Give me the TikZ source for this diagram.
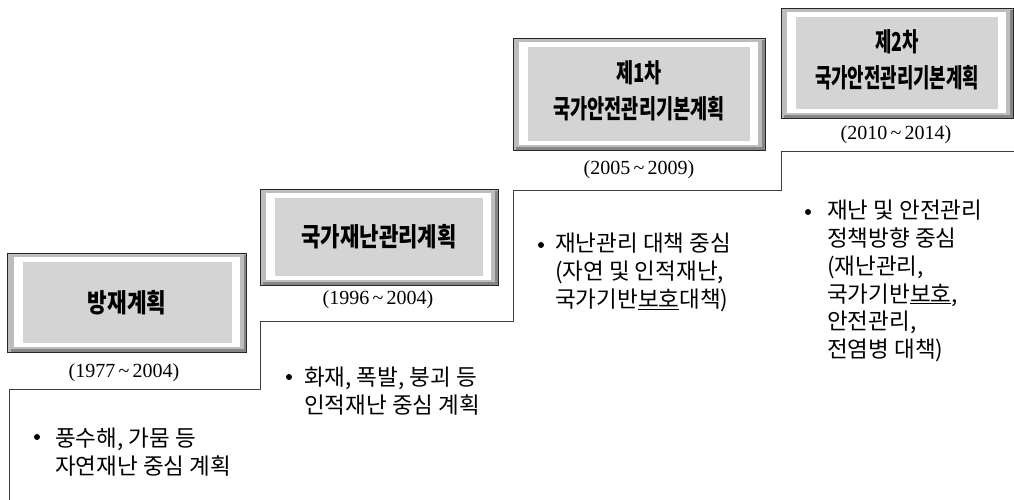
\documentclass[tikz,border=0pt]{standalone}
\usepackage{fontspec}
\setmainfont{Liberation Serif}
\newfontfamily\kr{Noto Sans CJK KR}
\usetikzlibrary{calc}
\begin{document}
\begin{tikzpicture}[x=1pt,y=-1pt,
  tbox/.style={draw=black!85, line width=0.7pt, fill=black!28, inner sep=0,
    font={\kr\bfseries\fontsize{26}{30}\selectfont},
    path picture={
      \fill[black!48] ([shift={(3pt,-2pt)}]path picture bounding box.north west) rectangle (path picture bounding box.south east);
      \fill[black!26] (path picture bounding box.north west) rectangle ([shift={(-3pt,3pt)}]path picture bounding box.south east);
      \fill[white] ([shift={(6pt,-4pt)}]path picture bounding box.north west) rectangle ([shift={(-7pt,5pt)}]path picture bounding box.south east);
      \fill[black!17] ([shift={(15pt,-9pt)}]path picture bounding box.north west) rectangle ([shift={(-15pt,9pt)}]path picture bounding box.south east);
    }},
  date/.style={inner sep=0, font={\fontsize{20}{24}\selectfont}},
  body/.style={inner sep=0, anchor=west, align=left, font={\kr\fontsize{22.5}{27.8}\selectfont}},
  dot/.style={circle, fill=black, inner sep=0, minimum size=6pt},
  stair/.style={draw=black!75, line width=0.8pt}
]
\path[use as bounding box] (0,0) rectangle (1014,500);

% step line
\coordinate (s0) at (9,500);
\coordinate (s1) at (9,389);
\coordinate (s2) at (260,389);
\coordinate (s3) at (260,321);
\coordinate (s4) at (513,321);
\coordinate (s5) at (513,190);
\coordinate (s6) at (781,190);
\coordinate (s7) at (781,151);
\coordinate (s8) at (1014,151);
\draw[stair] (s0) -- (s1) -- (s2) -- (s3) -- (s4) -- (s5) -- (s6) -- (s7) -- (s8);

% boxes
\node[tbox, minimum width=239pt, minimum height=99pt] (b1) at (127,302.5)
  {\raisebox{-1pt}{\scalebox{0.82}[1]{방재계획}}};
\node[tbox, minimum width=238pt, minimum height=96pt] (b2) at (379,237)
  {\scalebox{0.81}[1]{국가재난관리계획}};
\node[tbox, minimum width=252pt, minimum height=112pt] (b3) at (639,94)
  {\raisebox{-3.5pt}{\scalebox{0.715}[1]{\begin{tabular}{@{}c@{}}제1차\\[5pt]국가안전관리기본계획\end{tabular}}}};
\node[tbox, minimum width=232pt, minimum height=110pt] (b4) at (897,63)
  {\raisebox{-4pt}{\scalebox{0.685}[1]{\begin{tabular}{@{}c@{}}제2차\\[5pt]국가안전관리기본계획\end{tabular}}}};

% dates
\node[date] (d1) at (124,373) {(1977\,\textasciitilde\,2004)};
\node[date] (d2) at (378,300) {(1996\,\textasciitilde\,2004)};
\node[date] (d3) at (639,170) {(2005\,\textasciitilde\,2009)};
\node[date] (d4) at (896,135) {(2010\,\textasciitilde\,2014)};

% bullets and texts
\node[dot] (p1) at (37,437) {};
\node[body] (t1) at (55,452) {풍수해, 가뭄 등\\자연재난 중심 계획};
\node[dot] (p2) at (289,377) {};
\node[body] (t2) at (304,391) {화재, 폭발, 붕괴 등\\인적재난 중심 계획};
\node[dot] (p3) at (541,245) {};
\node[body] (t3) at (555,272.5) {재난관리 대책 중심\\(자연 및 인적재난,\\국가기반\underline{보호}대책)};
\node[dot] (p4) at (808,212) {};
\node[body] (t4) at (827,281) {재난 및 안전관리\\정책방향 중심\\(재난관리,\\국가기반\underline{보호},\\안전관리,\\전염병 대책)};
\end{tikzpicture}
\end{document}
